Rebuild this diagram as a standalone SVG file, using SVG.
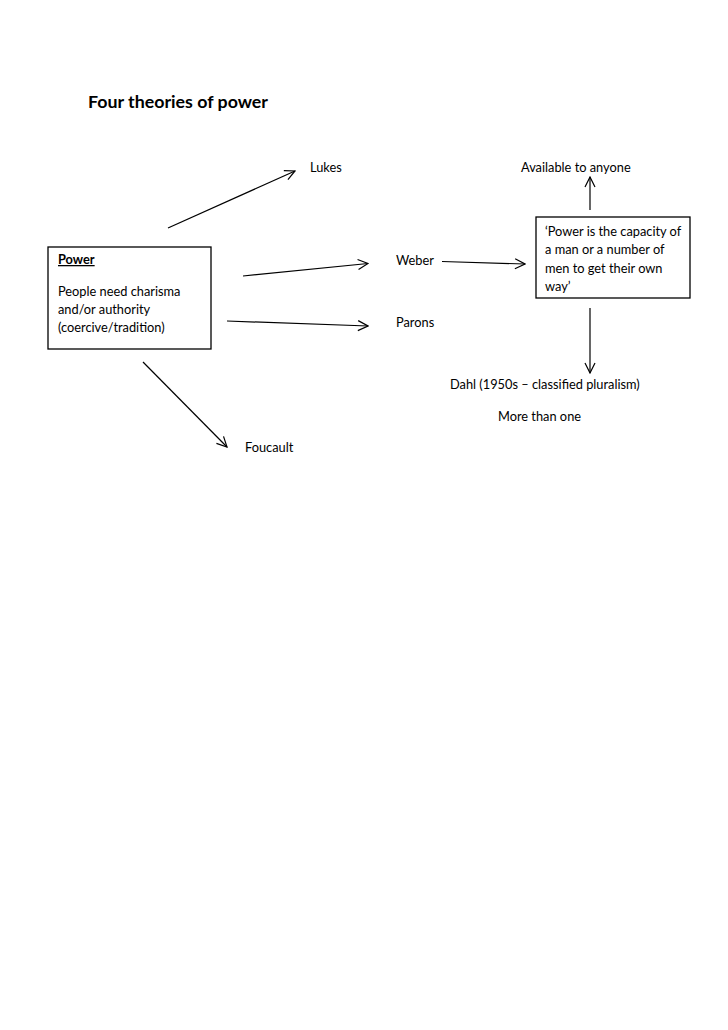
<svg xmlns="http://www.w3.org/2000/svg" width="728" height="1030" viewBox="0 0 728 1030">
  <style>
    text { font-family: Lato, "Open Sans", "Liberation Sans", sans-serif; font-size: 12.8px; fill: #000; }
    .title { font-size: 17.8px; font-weight: bold; }
    .box { fill: #fff; stroke: #000; stroke-width: 1.3; }
    .conn line { stroke: #000; stroke-width: 1.2; fill: none; marker-end: url(#arr); }
  </style>
  <defs>
    <marker id="arr" viewBox="0 0 12 12" refX="11" refY="6" markerWidth="12" markerHeight="12" markerUnits="userSpaceOnUse" orient="auto">
      <path d="M1,1 L11,6 L1,11" fill="none" stroke="#000" stroke-width="1.2"/>
    </marker>
  </defs>
  <rect width="728" height="1030" fill="#fff"/>
  <g id="title"><text class="title" x="88" y="108">Four theories of power</text></g>

  <g id="power">
    <rect class="box" x="48" y="247" width="163" height="102"/>
    <text x="58" y="264" font-weight="bold" text-decoration="underline">Power</text>
    <text x="58" y="296">People need charisma</text>
    <text x="58" y="314">and/or authority</text>
    <text x="58" y="332">(coercive/tradition)</text>
  </g>

  <g id="lukes"><text x="310" y="172">Lukes</text></g>
  <g id="weber"><text x="396" y="265">Weber</text></g>
  <g id="parons"><text x="396" y="327">Parons</text></g>
  <g id="foucault"><text x="245" y="452">Foucault</text></g>
  <g id="available"><text x="521" y="172">Available to anyone</text></g>

  <g id="quote">
    <rect class="box" x="536" y="217" width="154" height="81"/>
    <text x="545" y="235.5">‘Power is the capacity of</text>
    <text x="545" y="254">a man or a number of</text>
    <text x="545" y="272.5">men to get their own</text>
    <text x="545" y="290.5">way’</text>
  </g>

  <g id="dahl">
    <text x="450" y="389">Dahl (1950s – classified pluralism)</text>
    <text x="498" y="421">More than one</text>
  </g>

  <g id="connectors" class="conn">
    <line x1="168" y1="228" x2="295" y2="171"/>
    <line x1="243" y1="276" x2="368" y2="263.5"/>
    <line x1="227" y1="321" x2="368" y2="326"/>
    <line x1="143" y1="362" x2="227" y2="447"/>
    <line x1="442" y1="261.5" x2="525" y2="264"/>
    <line x1="590" y1="210" x2="590" y2="177"/>
    <line x1="590" y1="308" x2="590" y2="373"/>
  </g>
</svg>
